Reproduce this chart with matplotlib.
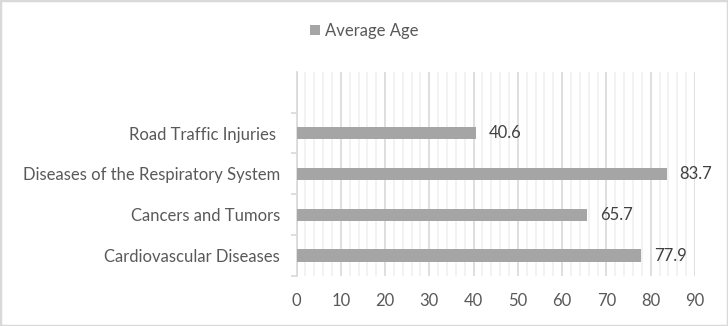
import matplotlib.pyplot as plt
from matplotlib.patches import Rectangle
from matplotlib.ticker import MultipleLocator

plt.rcParams['font.family'] = ['Lato', 'DejaVu Sans']

categories = ['Cardiovascular Diseases', 'Cancers and Tumors',
              'Diseases of the Respiratory System', 'Road Traffic Injuries ', '']
ages = [77.9, 65.7, 83.7, 40.6, None]
series_name = 'Average Age'

bar_color = '#a5a5a5'
text_color = '#595959'
font_size = 12

fig = plt.figure(figsize=(7.28, 3.26), dpi=100)
ax = fig.add_axes([0.4073, 0.1534, 0.5474, 0.6266])

ypos = list(range(len(categories)))
vals = [v if v is not None else 0 for v in ages]
bars = ax.barh(ypos, vals, height=0.3, color=bar_color, label=series_name, zorder=3)

for y, v in zip(ypos, ages):
    if v is None:
        continue
    ax.annotate(f'{v:.1f}', (v, y), xytext=(9, 0), textcoords='offset points',
                ha='left', va='center', fontsize=font_size, color='#404040')

ax.set_xlim(0, 90)
ax.set_ylim(-0.5, len(categories) - 0.5)
ax.xaxis.set_major_locator(MultipleLocator(10))
ax.xaxis.set_minor_locator(MultipleLocator(2))
ax.grid(axis='x', which='major', color='#d9d9d9', linewidth=1.2, zorder=0)
ax.grid(axis='x', which='minor', color='#f0f0f0', linewidth=1.2, zorder=0)

ax.set_yticks(ypos)
ax.set_yticklabels(categories)
ax.set_yticks([y + 0.5 for y in ypos[:-1]] + [-0.5], minor=True)
ax.tick_params(axis='y', which='major', length=0, pad=12, labelsize=font_size, labelcolor=text_color)
ax.tick_params(axis='y', which='minor', length=4, width=1.2, color='#d9d9d9')
ax.tick_params(axis='x', which='both', length=0, pad=12, labelsize=font_size, labelcolor=text_color)

for side in ['top', 'right', 'bottom']:
    ax.spines[side].set_visible(False)
ax.spines['left'].set_color('#d9d9d9')
ax.spines['left'].set_linewidth(1.2)

fig.legend(handles=[bars], labels=[series_name], loc='center', bbox_to_anchor=(0.5, 0.905),
           frameon=False, fontsize=font_size, labelcolor=text_color, handlelength=0.6,
           handleheight=0.6, handletextpad=0.3)

fig.patches.append(Rectangle((0, 0), 1, 1, transform=fig.transFigure, fill=False,
                             edgecolor='#d9d9d9', linewidth=2.5))

fig.savefig('out.png', dpi=100)
